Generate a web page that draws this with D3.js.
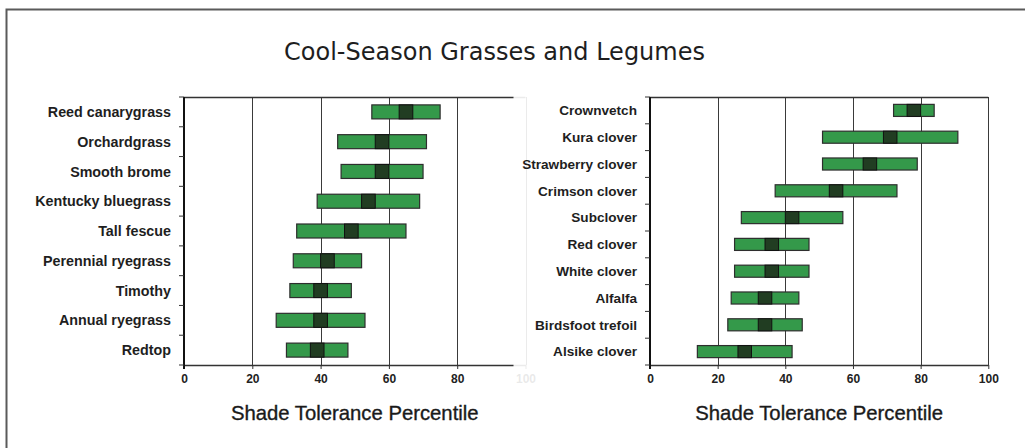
<!DOCTYPE html>
<html><head><meta charset="utf-8">
<script src="https://cdn.jsdelivr.net/npm/d3@7"></script>
<style>
html,body{margin:0;padding:0;background:#fff;}
svg{display:block;}
</style></head>
<body>
<svg id="chart" width="1025" height="448"></svg>
<script>
const title = "Cool-Season Grasses and Legumes";
const axisTitle = "Shade Tolerance Percentile";
const xTicks = [0, 20, 40, 60, 80, 100];

const grassNames = ["Reed canarygrass","Orchardgrass","Smooth brome","Kentucky bluegrass","Tall fescue","Perennial ryegrass","Timothy","Annual ryegrass","Redtop"];
const grassLow = [55, 45, 46, 39, 33, 32, 31, 27, 30];
const grassHigh = [75, 71, 70, 69, 65, 52, 49, 53, 48];
const grassDarkLow = [63, 56, 56, 52, 47, 40, 38, 38, 37];
const grassDarkHigh = [67, 60, 60, 56, 51, 44, 42, 42, 41];

const legumeNames = ["Crownvetch","Kura clover","Strawberry clover","Crimson clover","Subclover","Red clover","White clover","Alfalfa","Birdsfoot trefoil","Alsike clover"];
const legumeLow = [72, 51, 51, 37, 27, 25, 25, 24, 23, 14];
const legumeHigh = [84, 91, 79, 73, 57, 47, 47, 44, 45, 42];
const legumeDarkLow = [76, 69, 63, 53, 40, 34, 34, 32, 32, 26];
const legumeDarkHigh = [80, 73, 67, 57, 44, 38, 38, 36, 36, 30];

const svg = d3.select("#chart");
const GREEN = "#34994a", DARK = "#213d22", STROKE = "#2e2e2e";

// outer frame
svg.append("path").attr("d", "M6.5,448 V9.5 H1025").attr("fill","none")
  .attr("stroke","#5a5a5a").attr("stroke-width",2);

// title
svg.append("text").attr("x", 494.5).attr("y", 60).attr("text-anchor","middle")
  .attr("font-family","'DejaVu Sans', sans-serif").attr("font-size", 24)
  .attr("fill","#1e1e1e").attr("textLength", 421).attr("lengthAdjust","spacingAndGlyphs")
  .text(title);

function panel(opts) {
  const {names, low, high, dlo, dhi, x0, x1, y0, y1, barFrac, labelSize} = opts;
  const g = svg.append("g");
  const x = d3.scaleLinear().domain([0, 100]).range([x0, x1]);
  const y = d3.scaleBand().domain(names).range([y0, y1]).paddingInner(0).paddingOuter(0);
  const bh = y.bandwidth() * barFrac;

  // gridlines (20..100)
  g.selectAll("line.grid").data(xTicks.slice(1)).join("line")
    .attr("x1", d => Math.round(x(d)) + 0.5).attr("x2", d => Math.round(x(d)) + 0.5)
    .attr("y1", y0).attr("y2", y1)
    .attr("stroke", "#3a3a3a").attr("stroke-width", 1);
  // top border
  g.append("line").attr("x1", x0).attr("x2", x1).attr("y1", y0 + 0.5).attr("y2", y0 + 0.5)
    .attr("stroke", "#333").attr("stroke-width", 1.3);

  // x axis
  const xAxis = d3.axisBottom(x).tickValues(xTicks).tickSize(4).tickPadding(5).tickSizeOuter(0);
  const ax = g.append("g").attr("transform", `translate(0,${y1})`).call(xAxis);
  ax.select(".domain").attr("stroke", "#333").attr("stroke-width", 1.5);
  ax.selectAll(".tick line").attr("stroke", "#333");
  ax.selectAll(".tick text").attr("font-family", "'Liberation Sans', Arial, sans-serif")
    .attr("font-weight", "bold").attr("font-size", 12).attr("fill", "#222");

  // y axis line and boundary ticks
  g.append("line").attr("x1", x0).attr("x2", x0).attr("y1", y0).attr("y2", y1 + 4)
    .attr("stroke", "#111").attr("stroke-width", 2);
  const bounds = d3.range(names.length + 1).map(i => y0 + i * y.step());
  g.selectAll("line.yt").data(bounds).join("line")
    .attr("x1", x0 - 5).attr("x2", x0).attr("y1", d => d).attr("y2", d => d)
    .attr("stroke", "#333").attr("stroke-width", 1);

  // category labels
  g.selectAll("text.cat").data(names).join("text")
    .attr("x", x0 - 13).attr("y", d => y(d) + y.bandwidth() / 2)
    .attr("dy", "0.36em").attr("text-anchor", "end")
    .attr("font-family", "'Liberation Sans', Arial, sans-serif").attr("font-weight", "bold")
    .attr("font-size", labelSize).attr("fill", "#1e1e1e").text(d => d);

  // bars
  const rows = names.map((n, i) => ({n, lo: low[i], hi: high[i], dl: dlo[i], dh: dhi[i]}));
  g.selectAll("rect.bar").data(rows).join("rect")
    .attr("x", d => x(d.lo)).attr("width", d => x(d.hi) - x(d.lo))
    .attr("y", d => y(d.n) + (y.bandwidth() - bh) / 2).attr("height", bh)
    .attr("fill", GREEN).attr("stroke", STROKE).attr("stroke-width", 1.2);
  g.selectAll("rect.dark").data(rows).join("rect")
    .attr("x", d => x(d.dl)).attr("width", d => x(d.dh) - x(d.dl))
    .attr("y", d => y(d.n) + (y.bandwidth() - bh) / 2).attr("height", bh)
    .attr("fill", DARK).attr("stroke", "#111").attr("stroke-width", 1);

  // axis title
  g.append("text").attr("x", (x0 + x1) / 2).attr("y", 420).attr("text-anchor", "middle")
    .attr("font-family", "'Liberation Sans', Arial, sans-serif").attr("font-size", 20.3)
    .attr("fill", "#1a1a1a").attr("stroke", "#1a1a1a").attr("stroke-width", 0.35)
    .text(axisTitle);
  return g;
}

panel({names: grassNames, low: grassLow, high: grassHigh, dlo: grassDarkLow, dhi: grassDarkHigh,
  x0: 184, x1: 525.5, y0: 97, y1: 365, barFrac: 0.47, labelSize: 14.3});

// semi-transparent panel of the second chart covering the first one's right edge
svg.append("rect").attr("x", 513.5).attr("y", 88).attr("width", 1025 - 513.5).attr("height", 310)
  .attr("fill", "#fff").attr("opacity", 0.9);

panel({names: legumeNames, low: legumeLow, high: legumeHigh, dlo: legumeDarkLow, dhi: legumeDarkHigh,
  x0: 650, x1: 988.3, y0: 97, y1: 365, barFrac: 0.45, labelSize: 13.6});
</script>
</body></html>
